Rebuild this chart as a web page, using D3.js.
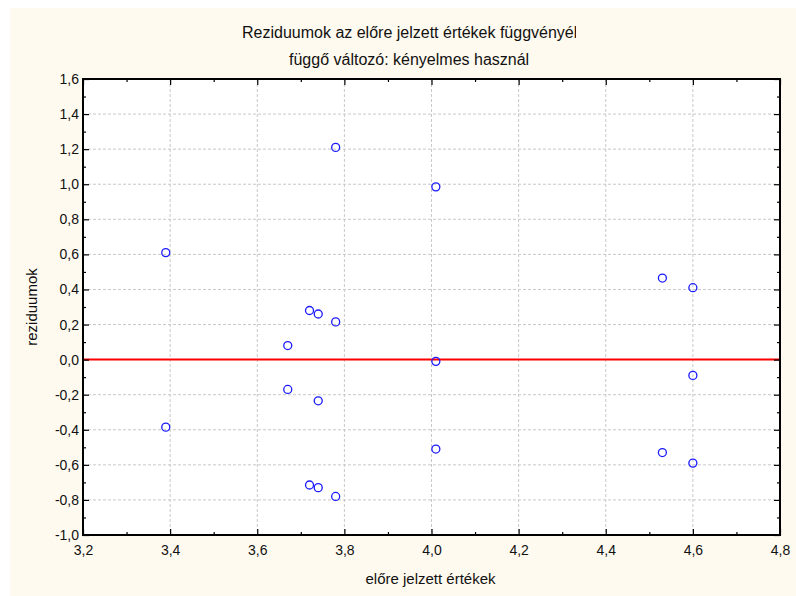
<!DOCTYPE html>
<meta charset="utf-8">
<style>
body { margin: 0; background: #fff; }
text { font-family: "Liberation Sans", Arial, sans-serif; fill: #111; }
.grid line { stroke: #c8c8c8; stroke-dasharray: 3,2; }
</style>
<svg width="796" height="596"></svg>
<script src="https://d3js.org/d3.v7.min.js"></script>
<script>

// predicted values (x) and residuals (y)
var predicted = [3.39, 3.39, 3.67, 3.67, 3.72, 3.72, 3.74, 3.74, 3.74, 3.78,
                 3.78, 3.78, 4.01, 4.01, 4.01, 4.53, 4.53, 4.60, 4.60, 4.60];
var residuals = [0.61, -0.385, 0.08, -0.17, 0.28, -0.715, 0.26, -0.235, -0.73, 1.21,
                 0.215, -0.78, 0.985, -0.01, -0.51, 0.465, -0.53, 0.41, -0.09, -0.59];
var xTicks = [3.2, 3.4, 3.6, 3.8, 4.0, 4.2, 4.4, 4.6, 4.8];
var yTicks = [-1.0, -0.8, -0.6, -0.4, -0.2, 0.0, 0.2, 0.4, 0.6, 0.8, 1.0, 1.2, 1.4, 1.6];
var xMinor = [3.3, 3.5, 3.7, 3.9, 4.1, 4.3, 4.5, 4.7];
var yMinor = [-0.9, -0.7, -0.5, -0.3, -0.1, 0.1, 0.3, 0.5, 0.7, 0.9, 1.1, 1.3, 1.5];

var svg = d3.select("svg");
var pLeft = 83, pRight = 780, pTop = 79, pBottom = 535;

var x = d3.scaleLinear().domain([3.2, 4.8]).range([pLeft, pRight]);
var y = d3.scaleLinear().domain([-1.0, 1.6]).range([pBottom, pTop]);
var fmt = function(d) { return d3.format(".1f")(d).replace(".", ",").replace("−", "-"); };

// cream background panel
svg.append("rect").attr("x", 10).attr("y", 8).attr("width", 786).attr("height", 588)
    .attr("fill", "#fffaef");
svg.append("rect").attr("x", pLeft).attr("y", pTop).attr("width", pRight - pLeft).attr("height", pBottom - pTop)
    .attr("fill", "#fff");

// titles (clipped like the original)
var defs = svg.append("defs");
defs.append("clipPath").attr("id", "c1").append("rect").attr("x", 0).attr("y", 15).attr("width", 576).attr("height", 30);
defs.append("clipPath").attr("id", "c2").append("rect").attr("x", 0).attr("y", 45).attr("width", 529).attr("height", 30);
svg.append("text").attr("x", 242).attr("y", 38).attr("font-size", 16).attr("clip-path", "url(#c1)")
    .text("Reziduumok az előre jelzett értékek függvényében");
svg.append("text").attr("x", 289).attr("y", 65).attr("font-size", 16).attr("clip-path", "url(#c2)")
    .text("függő változó: kényelmes használhatóság");

// grid
svg.append("g").attr("class", "grid")
  .selectAll("line").data(xTicks.slice(1, -1)).join("line")
    .attr("x1", d => x(d)).attr("x2", d => x(d)).attr("y1", pTop).attr("y2", pBottom);
svg.append("g").attr("class", "grid")
  .selectAll("line").data(yTicks.slice(1, -1)).join("line")
    .attr("y1", d => y(d)).attr("y2", d => y(d)).attr("x1", pLeft).attr("x2", pRight);

// zero line
svg.append("line").attr("x1", pLeft).attr("x2", pRight).attr("y1", y(0)).attr("y2", y(0))
    .attr("stroke", "#ff0000").attr("stroke-width", 2);

// points
svg.append("g").selectAll("circle").data(predicted).join("circle")
    .attr("cx", d => x(d)).attr("cy", (d, i) => y(residuals[i]))
    .attr("r", 4).attr("fill", "none").attr("stroke", "#1a1aff").attr("stroke-width", 1.3);

// axes with inward ticks
svg.append("g").attr("transform", "translate(0," + pBottom + ")")
    .call(d3.axisBottom(x).tickValues(xTicks).tickFormat(fmt).tickSizeInner(-6).tickSizeOuter(0).tickPadding(10));
svg.append("g").attr("transform", "translate(" + pLeft + ",0)")
    .call(d3.axisLeft(y).tickValues(yTicks).tickFormat(fmt).tickSizeInner(-6).tickSizeOuter(0).tickPadding(4));
svg.append("g").attr("transform", "translate(0," + pTop + ")")
    .call(d3.axisTop(x).tickValues(xTicks).tickFormat("").tickSizeInner(-6).tickSizeOuter(0));
svg.append("g").attr("transform", "translate(" + pRight + ",0)")
    .call(d3.axisRight(y).tickValues(yTicks).tickFormat("").tickSizeInner(-6).tickSizeOuter(0));
svg.append("g").attr("transform", "translate(0," + pBottom + ")")
    .call(d3.axisBottom(x).tickValues(xMinor).tickFormat("").tickSize(-3));
svg.append("g").attr("transform", "translate(" + pLeft + ",0)")
    .call(d3.axisLeft(y).tickValues(yMinor).tickFormat("").tickSize(-3));
svg.append("g").attr("transform", "translate(0," + pTop + ")")
    .call(d3.axisTop(x).tickValues(xMinor).tickFormat("").tickSize(-3));
svg.append("g").attr("transform", "translate(" + pRight + ",0)")
    .call(d3.axisRight(y).tickValues(yMinor).tickFormat("").tickSize(-3));
svg.selectAll(".domain").remove();
svg.selectAll(".tick line").attr("stroke", "#000").attr("stroke-width", 1.2);
svg.selectAll(".tick text").attr("fill", "#111").attr("font-size", 14)
    .attr("font-family", "Liberation Sans, Arial, sans-serif");

// frame
svg.append("rect").attr("x", pLeft).attr("y", pTop).attr("width", pRight - pLeft).attr("height", pBottom - pTop)
    .attr("fill", "none").attr("stroke", "#000").attr("stroke-width", 2);

// axis titles
svg.append("text").attr("x", (pLeft + pRight) / 2 - 1).attr("y", 584).attr("text-anchor", "middle")
    .attr("font-size", 15).text("előre jelzett értékek");
svg.append("text").attr("transform", "translate(37," + (pTop + pBottom) / 2 + ") rotate(-90)")
    .attr("text-anchor", "middle").attr("font-size", 15).text("reziduumok");

</script>
